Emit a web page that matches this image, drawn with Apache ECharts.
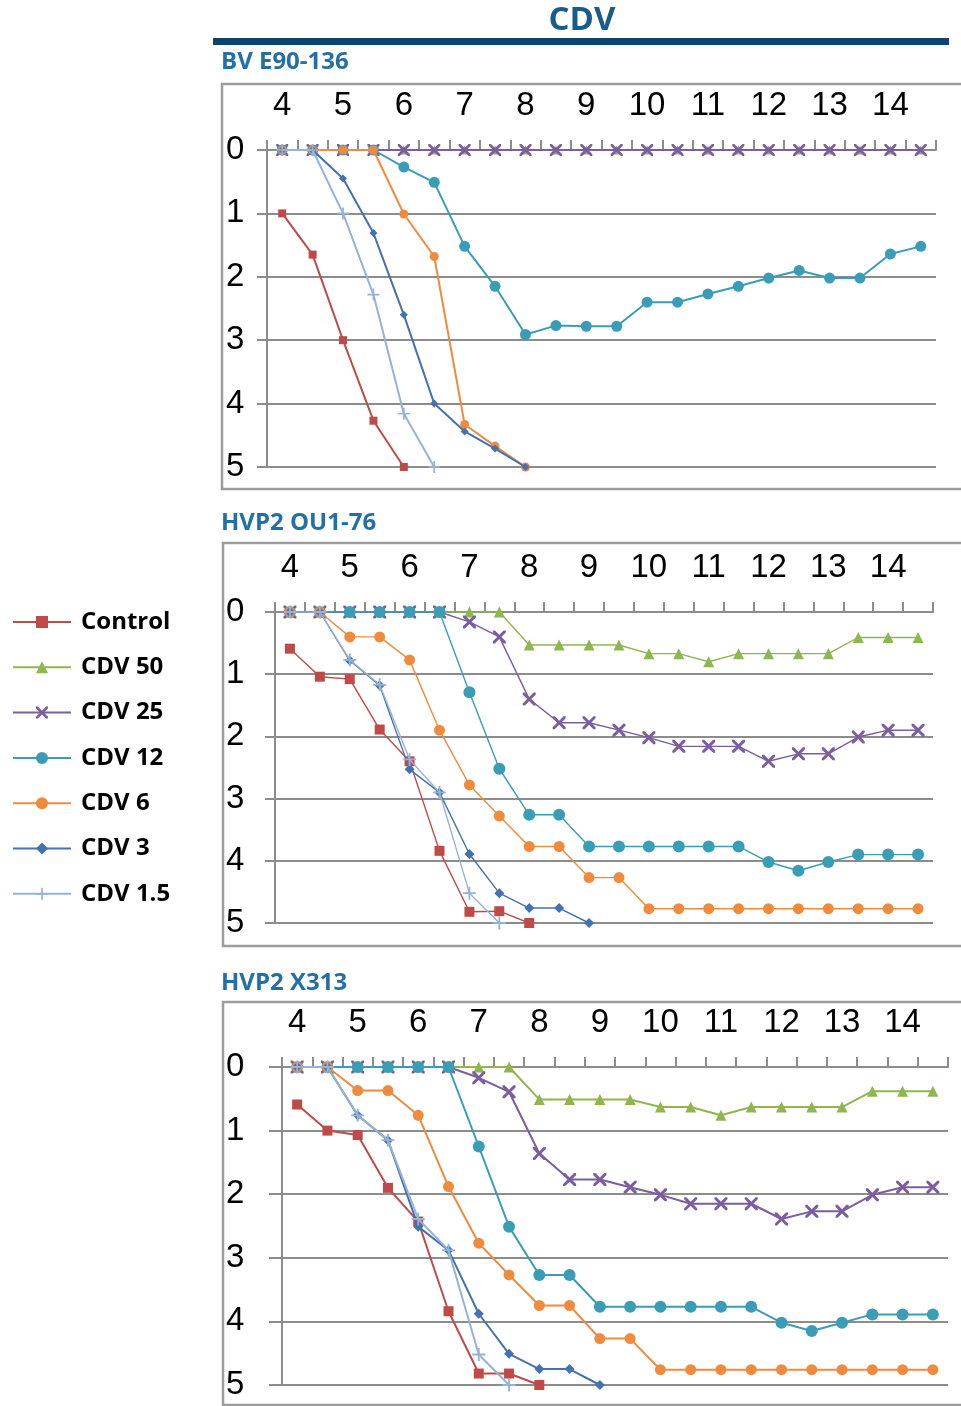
<!DOCTYPE html>
<html>
<head>
<meta charset="utf-8">
<title>CDV</title>
<script src="https://cdn.jsdelivr.net/npm/echarts@6/dist/echarts.min.js"></script>
<style>
  html, body { margin: 0; padding: 0; background: #ffffff; }
  #chart { width: 961px; height: 1406px; }
</style>
</head>
<body>
<div id="chart"></div>
<script>
// Days post infection (half-day steps); only whole days get a label
const days = ['4', '4.5', '5', '5.5', '6', '6.5', '7', '7.5', '8', '8.5', '9', '9.5',
              '10', '10.5', '11', '11.5', '12', '12.5', '13', '13.5', '14', '14.5'];

const seriesNames = ['Control', 'CDV 50', 'CDV 25', 'CDV 12', 'CDV 6', 'CDV 3', 'CDV 1.5'];
const panelTitles = ['BV E90-136', 'HVP2 OU1-76', 'HVP2 X313'];
const yTicks = [0, 1, 2, 3, 4, 5];

// Panel 1: BV E90-136
const bvControl = [1.0, 1.65, 3.0, 4.27, 5.0, null, null, null, null, null, null, null, null, null, null, null, null, null, null, null, null, null];
const bvCdv50   = [0, 0, 0, 0, 0, 0, 0, 0, 0, 0, 0, 0, 0, 0, 0, 0, 0, 0, 0, 0, 0, 0];
const bvCdv25   = [0, 0, 0, 0, 0, 0, 0, 0, 0, 0, 0, 0, 0, 0, 0, 0, 0, 0, 0, 0, 0, 0];
const bvCdv12   = [0, 0, 0, 0, 0.27, 0.51, 1.52, 2.15, 2.91, 2.77, 2.78, 2.78, 2.40, 2.40, 2.27, 2.15, 2.02, 1.90, 2.02, 2.02, 1.64, 1.52];
const bvCdv6    = [0, 0, 0, 0, 1.01, 1.68, 4.33, 4.67, 5.0, null, null, null, null, null, null, null, null, null, null, null, null, null];
const bvCdv3    = [0, 0, 0.45, 1.31, 2.60, 4.0, 4.44, 4.71, 5.0, null, null, null, null, null, null, null, null, null, null, null, null, null];
const bvCdv15   = [0, 0, 1.0, 2.28, 4.16, 5.0, null, null, null, null, null, null, null, null, null, null, null, null, null, null, null, null];

// Panel 2: HVP2 OU1-76
const ouControl = [0.59, 1.04, 1.08, 1.89, 2.40, 3.84, 4.82, 4.81, 5.0, null, null, null, null, null, null, null, null, null, null, null, null, null];
const ouCdv50   = [0, 0, 0, 0, 0, 0, 0, 0, 0.53, 0.53, 0.53, 0.53, 0.67, 0.67, 0.80, 0.67, 0.67, 0.67, 0.67, 0.41, 0.41, 0.41];
const ouCdv25   = [0, 0, 0, 0, 0, 0, 0.16, 0.40, 1.40, 1.78, 1.78, 1.90, 2.02, 2.16, 2.16, 2.16, 2.40, 2.28, 2.28, 2.01, 1.90, 1.90];
const ouCdv12   = [0, 0, 0, 0, 0, 0, 1.29, 2.52, 3.26, 3.26, 3.77, 3.77, 3.77, 3.77, 3.77, 3.77, 4.02, 4.16, 4.02, 3.90, 3.90, 3.90];
const ouCdv6    = [0, 0, 0.40, 0.40, 0.77, 1.90, 2.78, 3.28, 3.77, 3.77, 4.27, 4.27, 4.77, 4.77, 4.77, 4.77, 4.77, 4.77, 4.77, 4.77, 4.77, 4.77];
const ouCdv3    = [0, 0, 0.78, 1.18, 2.53, 2.90, 3.89, 4.52, 4.76, 4.76, 5.0, null, null, null, null, null, null, null, null, null, null, null];
const ouCdv15   = [0, 0, 0.77, 1.17, 2.37, 2.90, 4.52, 5.0, null, null, null, null, null, null, null, null, null, null, null, null, null, null];

// Panel 3: HVP2 X313
const xControl = [0.59, 1.0, 1.07, 1.90, 2.43, 3.84, 4.82, 4.82, 5.0, null, null, null, null, null, null, null, null, null, null, null, null, null];
const xCdv50   = [0, 0, 0, 0, 0, 0, 0, 0, 0.51, 0.51, 0.51, 0.51, 0.63, 0.63, 0.76, 0.63, 0.63, 0.63, 0.63, 0.38, 0.38, 0.38];
const xCdv25   = [0, 0, 0, 0, 0, 0, 0.17, 0.39, 1.36, 1.77, 1.77, 1.89, 2.01, 2.15, 2.15, 2.15, 2.39, 2.27, 2.27, 2.01, 1.89, 1.89];
const xCdv12   = [0, 0, 0, 0, 0, 0, 1.25, 2.51, 3.27, 3.27, 3.77, 3.77, 3.77, 3.77, 3.77, 3.77, 4.02, 4.15, 4.02, 3.89, 3.89, 3.89];
const xCdv6    = [0, 0, 0.37, 0.37, 0.76, 1.88, 2.77, 3.27, 3.75, 3.75, 4.27, 4.27, 4.76, 4.76, 4.76, 4.76, 4.76, 4.76, 4.76, 4.76, 4.76, 4.76];
const xCdv3    = [0, 0, 0.76, 1.15, 2.51, 2.88, 3.88, 4.51, 4.75, 4.75, 5.0, null, null, null, null, null, null, null, null, null, null, null];
const xCdv15   = [0, 0, 0.76, 1.15, 2.39, 2.88, 4.52, 5.0, null, null, null, null, null, null, null, null, null, null, null, null, null, null];

const panelData = [
  [bvControl, bvCdv50, bvCdv25, bvCdv12, bvCdv6, bvCdv3, bvCdv15],
  [ouControl, ouCdv50, ouCdv25, ouCdv12, ouCdv6, ouCdv3, ouCdv15],
  [xControl, xCdv50, xCdv25, xCdv12, xCdv6, xCdv3, xCdv15]
];

// Series look
const colors = ['#BE4B48', '#8FB64F', '#7B5EA0', '#3A9DB6', '#F08B3E', '#4472B0', '#95B3D7'];
const crossPath = 'path://M0,0 L1.6,0 L5,3.4 L8.4,0 L10,0 L10,1.6 L6.6,5 L10,8.4 L10,10 L8.4,10 L5,6.6 L1.6,10 L0,10 L0,8.4 L3.4,5 L0,1.6 Z';
const plusPath = 'path://M4.3,0 L5.7,0 L5.7,4.3 L10,4.3 L10,5.7 L5.7,5.7 L5.7,10 L4.3,10 L4.3,5.7 L0,5.7 L0,4.3 L4.3,4.3 Z';
const symbols = ['rect', 'triangle', crossPath, 'circle', 'circle', 'diamond', plusPath];

// Per-panel geometry
const grids = [
  { left: 267, top: 150, width: 669, height: 317, box: [222, 84, 489], titleY: 62, lineW: 2, symScale: 1.05, labelMargin: 41, tickLen: 10 },
  { left: 275, top: 612, width: 658, height: 311, box: [223, 543, 946], titleY: 523, lineW: 1.4, symScale: 1.2, labelMargin: 49, tickLen: 10 },
  { left: 282, top: 1067, width: 666, height: 318, box: [223, 1002, 1405], titleY: 983, lineW: 2, symScale: 1.2, labelMargin: 56, tickLen: 13 }
];
const baseSym = [8, 9, 11, 10, 9, 8, 11];

const gridColor = '#8c8c8c';
const tickFont = '"Liberation Sans Narrow", "Liberation Sans", Arial, sans-serif';
const boldFont = '"Open Sans", "Noto Sans", sans-serif';

const option = {
  animation: false,
  backgroundColor: '#ffffff',
  grid: grids.map(g => ({ left: g.left, top: g.top, width: g.width, height: g.height, containLabel: false })),
  xAxis: grids.map((g, i) => ({
    gridIndex: i,
    type: 'category',
    data: days,
    position: 'top',
    boundaryGap: true,
    axisLine: { show: true, lineStyle: { color: gridColor, width: 2 } },
    axisTick: { show: true, interval: 0, length: 10, lineStyle: { color: gridColor, width: 2 } },
    axisLabel: { interval: 1, margin: 28, color: '#000', fontSize: 33, fontFamily: tickFont },
    splitLine: { show: false }
  })),
  yAxis: grids.map((g, i) => ({
    gridIndex: i,
    type: 'value',
    inverse: true,
    min: yTicks[0],
    max: yTicks[yTicks.length - 1],
    interval: 1,
    axisLine: { show: true, lineStyle: { color: gridColor, width: 2 } },
    axisTick: { show: true, length: g.tickLen, lineStyle: { color: gridColor, width: 2 } },
    splitLine: { show: true, lineStyle: { color: gridColor, width: 2 } },
    axisLabel: { align: 'left', margin: g.labelMargin, color: '#000', fontSize: 33, fontFamily: tickFont }
  })),
  legend: {
    orient: 'vertical',
    left: 7,
    top: 602,
    itemWidth: 58,
    itemHeight: 15,
    itemGap: 15.3,
    data: seriesNames,
    lineStyle: { width: 2 },
    textStyle: { fontFamily: boldFont, fontWeight: 'bold', fontSize: 24, color: '#000', lineHeight: 30, padding: [0, 0, 0, 5] },
    selectedMode: false
  },
  series: [],
  graphic: []
};

panelData.forEach((panel, p) => {
  const g = grids[p];
  panel.forEach((values, s) => {
    option.series.push({
      name: seriesNames[s],
      type: 'line',
      xAxisIndex: p,
      yAxisIndex: p,
      data: values,
      symbol: symbols[s],
      symbolSize: Math.round(baseSym[s] * g.symScale),
      showSymbol: true,
      showAllSymbol: true,
      connectNulls: false,
      color: colors[s],
      lineStyle: { width: g.lineW, color: colors[s] },
      itemStyle: { color: colors[s] },
      z: 2 + s
    });
  });
  // panel frame
  option.graphic.push({
    type: 'rect',
    shape: { x: g.box[0], y: g.box[1], width: 980 - g.box[0], height: g.box[2] - g.box[1] },
    style: { fill: 'none', stroke: '#9c9c9c', lineWidth: 2.5 },
    silent: true,
    z: -1
  });
  // panel heading
  option.graphic.push({
    type: 'text',
    x: 221,
    y: g.titleY,
    style: { text: panelTitles[p], fill: '#2370A8', font: 'bold 24px ' + boldFont, align: 'left', verticalAlign: 'middle' }
  });
});

// Main heading and rule underneath
option.graphic.push({
  type: 'text',
  x: 582,
  y: 21,
  style: { text: 'CDV', fill: '#1B5B8A', font: 'bold 33px ' + boldFont, align: 'center', verticalAlign: 'middle' }
});
option.graphic.push({
  type: 'rect',
  shape: { x: 213, y: 38, width: 736, height: 7 },
  style: { fill: '#0F456D' },
  silent: true
});

const chart = echarts.init(document.getElementById('chart'), null, { renderer: 'canvas' });
chart.setOption(option);
</script>
</body>
</html>
